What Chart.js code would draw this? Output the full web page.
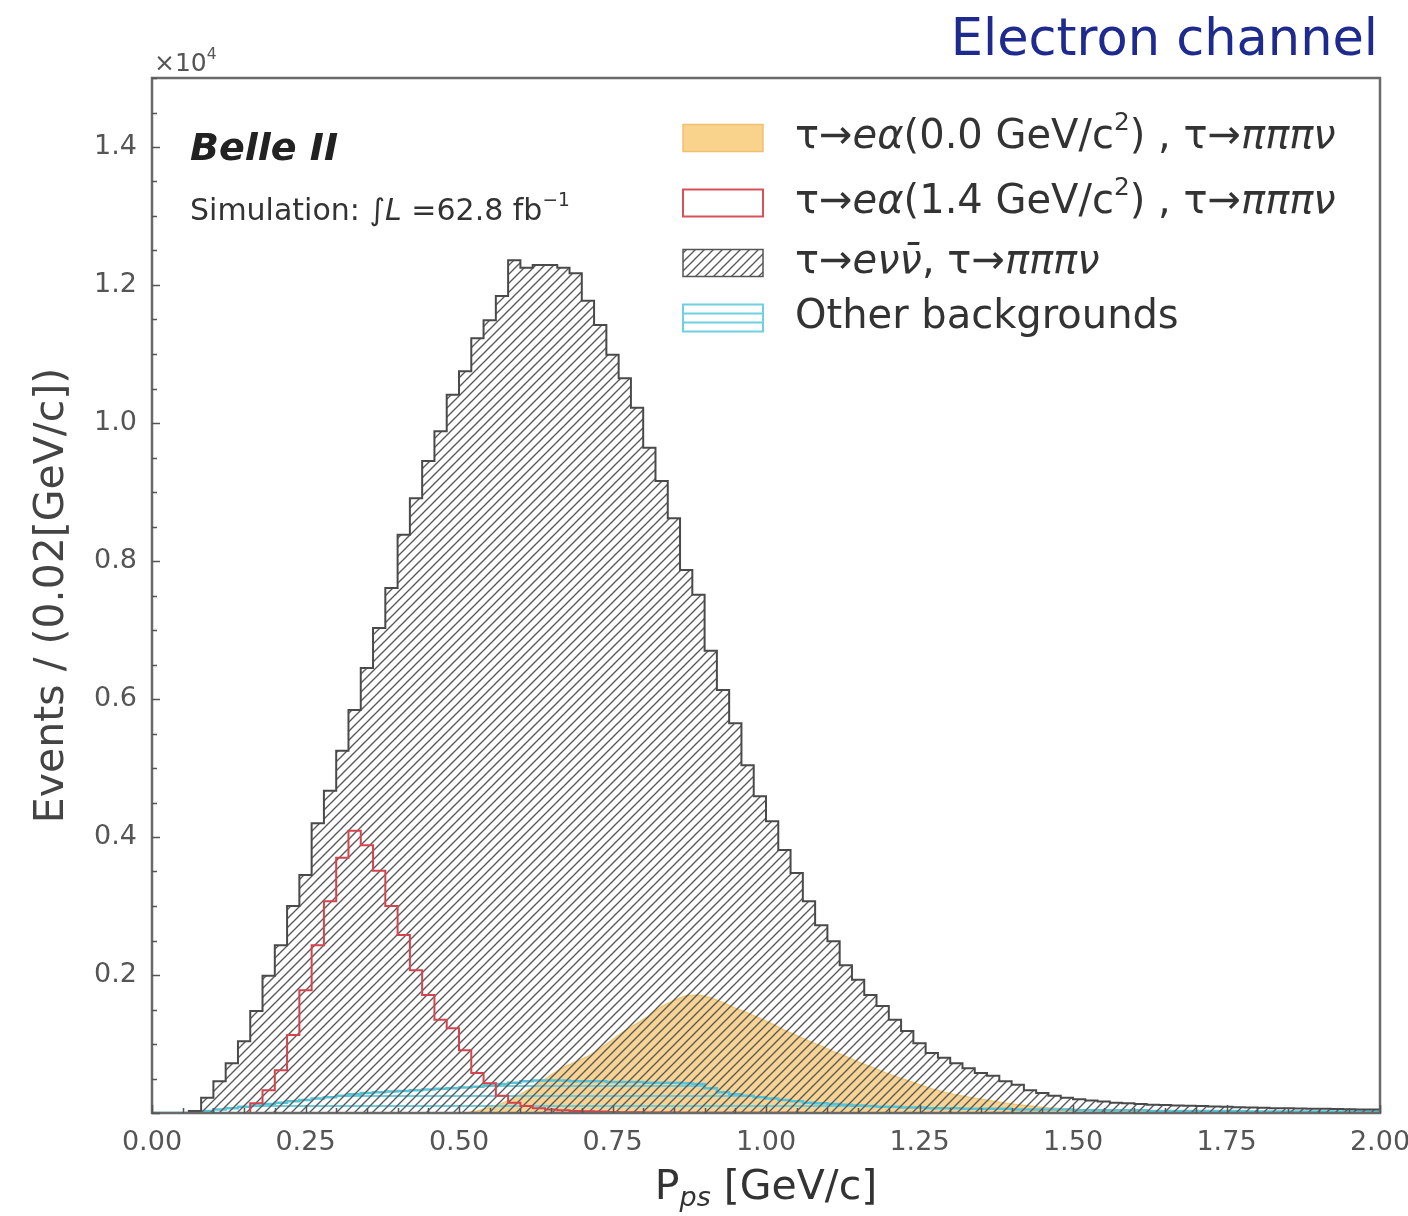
<!DOCTYPE html>
<html>
<head>
<meta charset="utf-8">
<script src="https://cdn.jsdelivr.net/npm/chart.js@4.4.1/dist/chart.umd.min.js"></script>
<style>
  html, body { margin: 0; background: #fff; }
  #wrap { width: 1408px; height: 1216px; }
</style>
</head>
<body>
<div id="wrap"><canvas id="ppsChart" width="1408" height="1216"></canvas></div>
<script>
// histogram bins: 100 bins of 0.02 GeV/c from 0 to 2
const binWidth = 0.02;
const nBins = 100;

// tau -> e nu nubar, tau -> 3pi nu (events per bin)
const nuBkg = [
  0, 0, 0, 30, 220, 460, 720, 1040, 1480, 1990,
  2430, 3000, 3450, 4200, 4670, 5250, 5840, 6450, 7030, 7610,
  8380, 8910, 9450, 9880, 10410, 10750, 11230, 11490, 11840, 12360,
  12250, 12290, 12290, 12250, 12170, 11770, 11420, 10990, 10650, 10220,
  9640, 9160, 8620, 7870, 7510, 6700, 6130, 5650, 5040, 4590,
  4230, 3810, 3480, 3070, 2720, 2490, 2140, 1930, 1710, 1550,
  1350, 1190, 1010, 870, 800, 720, 650, 580, 540, 460,
  410, 330, 290, 250, 220, 200, 180, 165, 150, 140,
  130, 120, 115, 110, 105, 100, 95, 90, 85, 80,
  75, 70, 68, 65, 62, 60, 58, 55, 52, 50
];

// tau -> e alpha (1.4 GeV/c^2)
const alpha14 = [
  0, 0, 0, 0, 0, 0, 0, 0, 140, 330,
  620, 1130, 1780, 2430, 3070, 3700, 4090, 3880, 3510, 3000,
  2580, 2070, 1710, 1350, 1230, 910, 580, 430, 250, 150,
  100, 70, 50, 40, 30, 25, 20, 15, 12, 10,
  8, 7, 6, 5, 5, 4, 4, 3, 3, 2,
  2, 2, 2, 1, 1, 1, 1, 1, 1, 1,
  0, 0, 0, 0, 0, 0, 0, 0, 0, 0,
  0, 0, 0, 0, 0, 0, 0, 0, 0, 0,
  0, 0, 0, 0, 0, 0, 0, 0, 0, 0,
  0, 0, 0, 0, 0, 0, 0, 0, 0, 0
];

// tau -> e alpha (0.0 GeV/c^2)
const alpha00 = [
  0, 0, 0, 0, 0, 0, 0, 0, 0, 0,
  0, 0, 0, 0, 0, 0, 0, 0, 0, 0,
  0, 0, 0, 0, 0, 0, 30, 80, 140, 220,
  320, 430, 550, 660, 740, 820, 930, 1060, 1190, 1300,
  1410, 1540, 1630, 1700, 1710, 1670, 1600, 1520, 1450, 1370,
  1290, 1200, 1120, 1040, 970, 890, 820, 740, 670, 600,
  530, 470, 410, 350, 300, 260, 230, 200, 170, 140,
  120, 100, 80, 70, 60, 50, 40, 30, 30, 30,
  30, 20, 20, 20, 20, 20, 10, 10, 10, 10,
  10, 10, 10, 10, 10, 10, 10, 10, 10, 10
];

// other backgrounds
const otherBkg = [
  0, 0, 0, 0, 30, 50, 70, 90, 110, 130,
  150, 170, 190, 210, 230, 250, 270, 290, 300, 310,
  320, 330, 340, 350, 360, 370, 380, 400, 420, 440,
  460, 470, 470, 470, 460, 460, 460, 450, 450, 450,
  440, 440, 440, 430, 420, 360, 300, 270, 250, 230,
  210, 190, 170, 150, 140, 130, 120, 110, 100, 90,
  90, 80, 80, 70, 70, 70, 60, 60, 60, 60,
  50, 50, 50, 50, 50, 40, 40, 40, 40, 40,
  40, 30, 30, 30, 30, 30, 30, 30, 30, 20,
  20, 20, 20, 20, 20, 20, 20, 20, 20, 20
];

const xTickValues = [0, 0.25, 0.5, 0.75, 1.0, 1.25, 1.5, 1.75, 2.0];
const yTickValues = [2000, 4000, 6000, 8000, 10000, 12000, 14000];

const FONT = '"DejaVu Sans", sans-serif';

// bin edges -> step points (last edge repeats last bin)
function toSteps(vals) {
  const pts = vals.map((v, i) => ({ x: i * binWidth, y: v }));
  pts.push({ x: nBins * binWidth, y: vals[vals.length - 1] });
  return pts;
}
function toCenters(vals) {
  return vals.map((v, i) => ({ x: (i + 0.5) * binWidth, y: v }));
}

const canvas = document.getElementById('ppsChart');
const ctx = canvas.getContext('2d');

function diagHatch(color, gap, lw) {
  const c = document.createElement('canvas');
  c.width = gap; c.height = gap;
  const g = c.getContext('2d');
  g.strokeStyle = color; g.lineWidth = lw;
  g.beginPath();
  g.moveTo(-1, gap + 1); g.lineTo(gap + 1, -1);
  g.moveTo(-gap / 2 - 1, gap / 2 + 1); g.lineTo(gap / 2 + 1, -gap / 2 - 1);
  g.moveTo(gap / 2 - 1, gap * 1.5 + 1); g.lineTo(gap * 1.5 + 1, gap / 2 - 1);
  g.stroke();
  return ctx.createPattern(c, 'repeat');
}
function horizHatch(color, gap, lw) {
  const c = document.createElement('canvas');
  c.width = 4; c.height = gap;
  const g = c.getContext('2d');
  g.fillStyle = color;
  g.fillRect(0, gap / 2, 4, lw);
  return ctx.createPattern(c, 'repeat');
}

const blackHatch = diagHatch('#5a5a5a', 9, 1.4);
const cyanHatch = horizHatch('#6fd0e0', 10, 2);

// rich text: parts of {t, it, sup, sub, bold}
function richText(g, parts, x, y, size, color) {
  let cx = x;
  g.fillStyle = color;
  g.textBaseline = 'middle';
  g.textAlign = 'left';
  for (const p of parts) {
    const fs = (p.sup || p.sub) ? size * 0.62 : size;
    g.font = (p.it ? 'italic ' : '') + (p.bold ? 'bold ' : '') + fs + 'px ' + FONT;
    const dy = p.sup ? -size * 0.36 : (p.sub ? size * 0.28 : 0);
    g.fillText(p.t, cx, y + dy);
    cx += g.measureText(p.t).width;
  }
  return cx;
}

const legendRows = [
  { y: 138, kind: 'orange', parts: [{ t: 'τ→' }, { t: 'eα', it: true }, { t: '(0.0 GeV/c' }, { t: '2', sup: true }, { t: ') , τ→' }, { t: 'πππν', it: true }] },
  { y: 203, kind: 'red', parts: [{ t: 'τ→' }, { t: 'eα', it: true }, { t: '(1.4 GeV/c' }, { t: '2', sup: true }, { t: ') , τ→' }, { t: 'πππν', it: true }] },
  { y: 263, kind: 'hatch', parts: [{ t: 'τ→' }, { t: 'eνν̄', it: true }, { t: ', τ→' }, { t: 'πππν', it: true }] },
  { y: 318, kind: 'cyan', parts: [{ t: 'Other backgrounds' }] }
];

const decorPlugin = {
  id: 'decor',
  afterDraw(chart) {
    const g = chart.ctx;
    const a = chart.chartArea;
    const xs = chart.scales.x, ys = chart.scales.y;
    g.save();

    // frame
    g.strokeStyle = '#6a6a6a';
    g.lineWidth = 2.5;
    g.strokeRect(a.left, a.top, a.right - a.left, a.bottom - a.top);

    // inward ticks
    g.strokeStyle = '#555';
    g.lineWidth = 1.5;
    g.beginPath();
    for (let v = 0; v <= 15000; v += 500) {
      const py = Math.round(ys.getPixelForValue(v)) + 0.5;
      const len = v % 2000 === 0 ? 8 : 5;
      g.moveTo(a.left, py); g.lineTo(a.left + len, py);
    }
    for (let k = 0; k <= 40; k++) {
      const v = k * 0.05;
      const px = Math.round(xs.getPixelForValue(v)) + 0.5;
      const len = k % 5 === 0 ? 8 : 5;
      g.moveTo(px, a.bottom); g.lineTo(px, a.bottom - len);
    }
    g.stroke();

    // offset label x10^4
    richText(g, [{ t: '×10' }, { t: '4', sup: true }], a.left + 2, 64, 25, '#555');

    // channel title
    g.fillStyle = '#1f2a8f';
    g.font = '51px ' + FONT;
    g.textAlign = 'right';
    g.textBaseline = 'middle';
    g.fillText('Electron channel', 1378, 42);

    // Belle II labels
    g.textAlign = 'left';
    g.fillStyle = '#222';
    g.font = 'italic bold 38px ' + FONT;
    g.fillText('Belle II', 190, 150);
    richText(g, [{ t: 'Simulation: ∫' }, { t: 'L', it: true }, { t: ' =62.8 fb' }, { t: '−1', sup: true }], 190, 212, 30, '#333');

    // x axis title
    const tf = 41;
    g.font = tf + 'px ' + FONT;
    const pw = g.measureText('P').width;
    g.font = 'italic 27px ' + FONT;
    const sw = g.measureText('ps').width;
    g.font = tf + 'px ' + FONT;
    const rw = g.measureText(' [GeV/c]').width;
    const x0 = (a.left + a.right) / 2 - (pw + sw + rw) / 2;
    richText(g, [{ t: 'P' }], x0, 1188, tf, '#333');
    g.font = 'italic 27px ' + FONT;
    g.fillText('ps', x0 + pw, 1199);
    richText(g, [{ t: ' [GeV/c]' }], x0 + pw + sw, 1188, tf, '#333');

    // legend
    for (const row of legendRows) {
      const bx = 683, bw = 80, bh = 27, by = row.y - bh / 2;
      if (row.kind === 'orange') {
        g.fillStyle = '#f9d38c'; g.fillRect(bx, by, bw, bh);
        g.strokeStyle = '#efc070'; g.lineWidth = 1.5; g.strokeRect(bx, by, bw, bh);
      } else if (row.kind === 'red') {
        g.strokeStyle = '#d8505a'; g.lineWidth = 2; g.strokeRect(bx, by, bw, bh);
      } else if (row.kind === 'hatch') {
        g.fillStyle = blackHatch; g.fillRect(bx, by, bw, bh);
        g.strokeStyle = '#555'; g.lineWidth = 1.5; g.strokeRect(bx, by, bw, bh);
      } else {
        g.fillStyle = '#6fd0e0';
        g.fillRect(bx, by + 8, bw, 2);
        g.fillRect(bx, by + 17, bw, 2);
        g.strokeStyle = '#6fd0e0'; g.lineWidth = 2; g.strokeRect(bx, by, bw, bh);
      }
      richText(g, row.parts, 795, row.y, 40, '#333');
    }
    g.restore();
  }
};

new Chart(ctx, {
  type: 'line',
  data: {
    datasets: [
      {
        label: 'τ→eα(1.4 GeV/c²) , τ→πππν',
        data: toSteps(alpha14),
        stepped: true,
        borderColor: '#d6434c',
        borderWidth: 2,
        fill: false,
        pointRadius: 0
      },
      {
        label: 'τ→eνν̄, τ→πππν',
        data: toSteps(nuBkg),
        stepped: true,
        borderColor: '#4a4a4a',
        borderWidth: 2,
        backgroundColor: blackHatch,
        fill: 'origin',
        pointRadius: 0
      },
      {
        label: 'Other backgrounds',
        data: toSteps(otherBkg),
        stepped: true,
        borderColor: '#55c6da',
        borderWidth: 2.5,
        backgroundColor: cyanHatch,
        fill: 'origin',
        pointRadius: 0
      },
      {
        label: 'τ→eα(0.0 GeV/c²) , τ→πππν',
        data: toCenters(alpha00),
        borderColor: '#f2c878',
        borderWidth: 1.5,
        backgroundColor: '#f8d494',
        fill: 'origin',
        pointRadius: 0
      }
    ]
  },
  options: {
    responsive: false,
    animation: false,
    layout: { padding: { left: 0, right: 28, top: 78, bottom: 0 }, autoPadding: false },
    plugins: {
      legend: { display: false },
      tooltip: { enabled: false }
    },
    scales: {
      x: {
        type: 'linear',
        min: 0,
        max: 2,
        afterBuildTicks: s => { s.ticks = xTickValues.map(v => ({ value: v })); },
        afterFit: s => { s.height = 103; s.paddingLeft = 0; s.paddingRight = 0; },
        grid: { display: false, drawTicks: false },
        border: { display: false },
        ticks: {
          padding: 14,
          color: '#555',
          font: { size: 27, family: FONT },
          maxRotation: 0,
          autoSkip: false,
          callback: v => Number(v).toFixed(2)
        }
      },
      y: {
        type: 'linear',
        min: 0,
        max: 15000,
        afterBuildTicks: s => { s.ticks = yTickValues.map(v => ({ value: v })); },
        afterFit: s => { s.width = 152; s.paddingTop = 0; s.paddingBottom = 0; },
        grid: { display: false, drawTicks: false },
        border: { display: false },
        ticks: {
          padding: 15,
          color: '#555',
          font: { size: 27, family: FONT },
          callback: v => (v / 10000).toFixed(1)
        },
        title: {
          display: true,
          text: 'Events / (0.02[GeV/c])',
          color: '#444',
          font: { size: 41, family: FONT },
          padding: { top: 28, bottom: 0 }
        }
      }
    }
  },
  plugins: [decorPlugin]
});
</script>
</body>
</html>
